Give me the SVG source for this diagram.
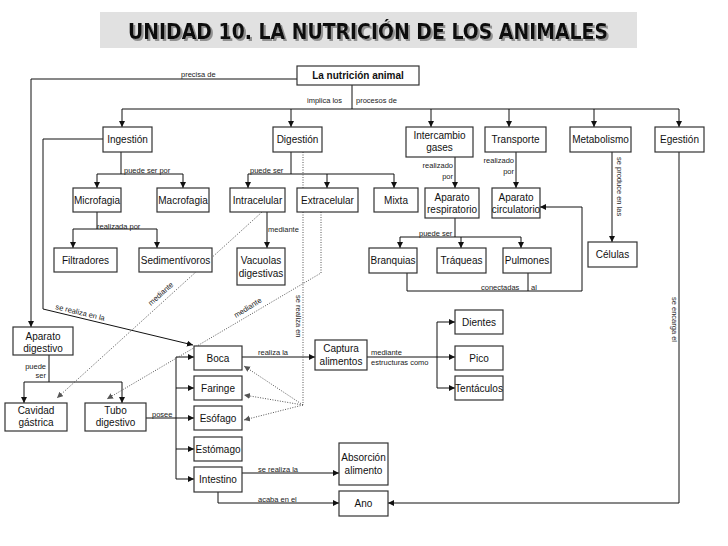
<svg xmlns="http://www.w3.org/2000/svg" width="728" height="546" viewBox="0 0 728 546">
<style>
.box{fill:#fff;stroke:#333;stroke-width:1.2}
.nt{font-family:"Liberation Sans",Arial,sans-serif;font-size:10px;fill:#111;text-anchor:middle}
.lb{font-family:"Liberation Sans",Arial,sans-serif;font-size:7.5px;fill:#222}
.ln{fill:none;stroke:#111;stroke-width:1}
.dt{fill:none;stroke:#555;stroke-width:1;stroke-dasharray:1,1.5}
.ttl{font-family:"DejaVu Sans Condensed","DejaVu Sans",Verdana,sans-serif;font-weight:bold;font-size:21px}
</style>
<defs>
<marker id="ar" markerUnits="userSpaceOnUse" markerWidth="7" markerHeight="7" refX="6" refY="3" orient="auto"><path d="M0,0 L6,3 L0,6 z" fill="#111"/></marker>
<marker id="ad" markerUnits="userSpaceOnUse" markerWidth="7" markerHeight="7" refX="6" refY="3" orient="auto"><path d="M0,0 L6,3 L0,6 z" fill="#555"/></marker>
<filter id="sh" x="-5%" y="-30%" width="110%" height="160%"><feDropShadow dx="2" dy="2" stdDeviation="0.6" flood-color="#888" flood-opacity="0.9"/></filter>
</defs>
<rect x="0" y="0" width="728" height="546" fill="#fff"/>
<g id="title">
<rect x="100" y="12" width="537" height="36" fill="#e1e1e1"/>
<text class="ttl" x="128" y="39" fill="#111" filter="url(#sh)" textLength="480" lengthAdjust="spacingAndGlyphs">UNIDAD 10. LA NUTRICIÓN DE LOS ANIMALES</text>
</g>
<g id="connectors">
<path class="ln" d="M297,79 H31 V327" marker-end="url(#ar)"/>
<path class="ln" d="M352,85 V109 M122,109 H679"/>
<path class="ln" d="M122,109 V127" marker-end="url(#ar)"/>
<path class="ln" d="M291,109 V127" marker-end="url(#ar)"/>
<path class="ln" d="M431,109 V127" marker-end="url(#ar)"/>
<path class="ln" d="M509,109 V127" marker-end="url(#ar)"/>
<path class="ln" d="M594,109 V127" marker-end="url(#ar)"/>
<path class="ln" d="M679,109 V127" marker-end="url(#ar)"/>
<path class="ln" d="M121,152 V174 M97,174 H183"/>
<path class="ln" d="M97,174 V188" marker-end="url(#ar)"/>
<path class="ln" d="M183,174 V188" marker-end="url(#ar)"/>
<path class="ln" d="M291,152 V174 M248,174 H394"/>
<path class="ln" d="M248,174 V188" marker-end="url(#ar)"/>
<path class="ln" d="M327,174 V188" marker-end="url(#ar)"/>
<path class="ln" d="M394,174 V188" marker-end="url(#ar)"/>
<path class="ln" d="M455,157 V188" marker-end="url(#ar)"/>
<path class="ln" d="M516,152 V188" marker-end="url(#ar)"/>
<path class="ln" d="M612,152 V242" marker-end="url(#ar)"/>
<path class="ln" d="M679,152 V503 H388" marker-end="url(#ar)"/>
<path class="ln" d="M97,212 V229 M73,229 H157"/>
<path class="ln" d="M73,229 V248" marker-end="url(#ar)"/>
<path class="ln" d="M157,229 V248" marker-end="url(#ar)"/>
<path class="ln" d="M267,212 V248" marker-end="url(#ar)"/>
<path class="ln" d="M455,218 V237 M400,237 H521"/>
<path class="ln" d="M400,237 V248" marker-end="url(#ar)"/>
<path class="ln" d="M461,237 V248" marker-end="url(#ar)"/>
<path class="ln" d="M521,237 V248" marker-end="url(#ar)"/>
<path class="ln" d="M407,273 V291 H582 V207 H540" marker-end="url(#ar)"/>
<path class="ln" d="M528,273 V291"/>
<path class="ln" d="M103,139 H43 V309 L193,345" marker-end="url(#ar)"/>
<path class="ln" d="M49,355 V382 M24,382 H122"/>
<path class="ln" d="M24,382 V403" marker-end="url(#ar)"/>
<path class="ln" d="M122,382 V403" marker-end="url(#ar)"/>
<path class="ln" d="M146,418 H194" marker-end="url(#ar)"/>
<path class="ln" d="M176,357 V479"/>
<path class="ln" d="M176,357 H194" marker-end="url(#ar)"/>
<path class="ln" d="M176,388 H194" marker-end="url(#ar)"/>
<path class="ln" d="M176,449 H194" marker-end="url(#ar)"/>
<path class="ln" d="M176,479 H194" marker-end="url(#ar)"/>
<path class="ln" d="M242,357 H315" marker-end="url(#ar)"/>
<path class="ln" d="M367,357 H437 M437,322 V388"/>
<path class="ln" d="M437,322 H455" marker-end="url(#ar)"/>
<path class="ln" d="M437,357 H455" marker-end="url(#ar)"/>
<path class="ln" d="M437,388 H455" marker-end="url(#ar)"/>
<path class="ln" d="M242,473 H339" marker-end="url(#ar)"/>
<path class="ln" d="M218,492 V503 H339" marker-end="url(#ar)"/>
<path class="dt" d="M303,152 V405"/>
<path class="dt" d="M303,405 L244,366" marker-end="url(#ad)"/>
<path class="dt" d="M303,405 L244,395" marker-end="url(#ad)"/>
<path class="dt" d="M303,405 L244,420" marker-end="url(#ad)"/>
<path class="dt" d="M262,212 L57,398" marker-end="url(#ad)"/>
<path class="dt" d="M321,212 V273 L107,399" marker-end="url(#ad)"/>
<text class="lb" x="181" y="77">precisa de</text>
<text class="lb" x="307" y="103">implica los</text>
<text class="lb" x="356" y="103">procesos de</text>
<text class="lb" x="124" y="173">puede ser por</text>
<text class="lb" x="250" y="173">puede ser</text>
<text class="lb" x="453" y="168" text-anchor="end">realizado</text>
<text class="lb" x="453" y="179" text-anchor="end">por</text>
<text class="lb" x="514" y="163" text-anchor="end">realizado</text>
<text class="lb" x="514" y="174" text-anchor="end">por</text>
<text class="lb" transform="translate(617,157) rotate(90)">se produce en las</text>
<text class="lb" transform="translate(672,297) rotate(90)">se encarga el</text>
<text class="lb" transform="translate(296,295) rotate(90)">se realiza en</text>
<text class="lb" x="97" y="229">realizada por</text>
<text class="lb" x="268" y="232">mediante</text>
<text class="lb" x="419" y="236">puede ser</text>
<text class="lb" x="481" y="290">conectadas</text>
<text class="lb" x="531" y="290">al</text>
<text class="lb" transform="translate(55,309) rotate(13.5)">se realiza en la</text>
<text class="lb" transform="translate(151,306) rotate(-42)">mediante</text>
<text class="lb" transform="translate(236,318) rotate(-32)">mediante</text>
<text class="lb" x="258" y="355">realiza la</text>
<text class="lb" x="371" y="355">mediante</text>
<text class="lb" x="371" y="365">estructuras como</text>
<text class="lb" x="152" y="417">posee</text>
<text class="lb" x="46" y="369" text-anchor="end">puede</text>
<text class="lb" x="46" y="378" text-anchor="end">ser</text>
<text class="lb" x="258" y="472">se realiza la</text>
<text class="lb" x="258" y="502">acaba en el</text>
</g>
<g id="n-nutricion"><rect class="box" x="297" y="66" width="122" height="19"/><text class="nt" x="358" y="79" font-weight="bold">La nutrición animal</text></g>
<g id="n-ingestion"><rect class="box" x="103" y="127" width="49" height="25"/><text class="nt" x="127.5" y="143">Ingestión</text></g>
<g id="n-digestion"><rect class="box" x="273" y="127" width="49" height="25"/><text class="nt" x="297.5" y="143">Digestión</text></g>
<g id="n-intercambio"><rect class="box" x="406" y="127" width="67" height="30"/><text class="nt" x="439.5" y="139">Intercambio</text><text class="nt" x="439.5" y="151">gases</text></g>
<g id="n-transporte"><rect class="box" x="485" y="127" width="61" height="25"/><text class="nt" x="515.5" y="143">Transporte</text></g>
<g id="n-metabolismo"><rect class="box" x="570" y="127" width="61" height="25"/><text class="nt" x="600.5" y="143">Metabolismo</text></g>
<g id="n-egestion"><rect class="box" x="655" y="127" width="49" height="25"/><text class="nt" x="679.5" y="143">Egestión</text></g>
<g id="n-microfagia"><rect class="box" x="73" y="188" width="48" height="24"/><text class="nt" x="97" y="204">Microfagia</text></g>
<g id="n-macrofagia"><rect class="box" x="157" y="188" width="52" height="24"/><text class="nt" x="183" y="204">Macrofagia</text></g>
<g id="n-intracelular"><rect class="box" x="230" y="188" width="55" height="24"/><text class="nt" x="257.5" y="204">Intracelular</text></g>
<g id="n-extracelular"><rect class="box" x="297" y="188" width="61" height="24"/><text class="nt" x="327.5" y="204">Extracelular</text></g>
<g id="n-mixta"><rect class="box" x="374" y="188" width="44" height="24"/><text class="nt" x="396" y="204">Mixta</text></g>
<g id="n-respiratorio"><rect class="box" x="425" y="188" width="54" height="30"/><text class="nt" x="452" y="201">Aparato</text><text class="nt" x="452" y="213">respiratorio</text></g>
<g id="n-circulatorio"><rect class="box" x="492" y="188" width="48" height="30"/><text class="nt" x="516" y="201">Aparato</text><text class="nt" x="516" y="213">circulatorio</text></g>
<g id="n-filtradores"><rect class="box" x="54" y="248" width="63" height="24"/><text class="nt" x="85.5" y="264">Filtradores</text></g>
<g id="n-sedimentivoros"><rect class="box" x="139" y="248" width="73" height="24"/><text class="nt" x="175.5" y="264">Sedimentívoros</text></g>
<g id="n-vacuolas"><rect class="box" x="237" y="248" width="48" height="37"/><text class="nt" x="261" y="264">Vacuolas</text><text class="nt" x="261" y="277">digestivas</text></g>
<g id="n-branquias"><rect class="box" x="369" y="248" width="48" height="25"/><text class="nt" x="393" y="264">Branquias</text></g>
<g id="n-traqueas"><rect class="box" x="437" y="248" width="49" height="25"/><text class="nt" x="461.5" y="264">Tráqueas</text></g>
<g id="n-pulmones"><rect class="box" x="503" y="248" width="48" height="25"/><text class="nt" x="527" y="264">Pulmones</text></g>
<g id="n-celulas"><rect class="box" x="588" y="242" width="49" height="25"/><text class="nt" x="612.5" y="258">Células</text></g>
<g id="n-apdigestivo"><rect class="box" x="13" y="327" width="60" height="28"/><text class="nt" x="43" y="340">Aparato</text><text class="nt" x="43" y="352">digestivo</text></g>
<g id="n-cavidad"><rect class="box" x="5" y="403" width="62" height="28"/><text class="nt" x="36" y="414">Cavidad</text><text class="nt" x="36" y="426">gástrica</text></g>
<g id="n-tubo"><rect class="box" x="85" y="403" width="61" height="28"/><text class="nt" x="115.5" y="414">Tubo</text><text class="nt" x="115.5" y="426">digestivo</text></g>
<g id="n-boca"><rect class="box" x="194" y="346" width="48" height="24"/><text class="nt" x="218" y="362">Boca</text></g>
<g id="n-faringe"><rect class="box" x="194" y="376" width="48" height="24"/><text class="nt" x="218" y="392">Faringe</text></g>
<g id="n-esofago"><rect class="box" x="194" y="406" width="48" height="24"/><text class="nt" x="218" y="422">Esófago</text></g>
<g id="n-estomago"><rect class="box" x="194" y="437" width="48" height="24"/><text class="nt" x="218" y="453">Estómago</text></g>
<g id="n-intestino"><rect class="box" x="194" y="467" width="48" height="25"/><text class="nt" x="218" y="483">Intestino</text></g>
<g id="n-captura"><rect class="box" x="315" y="340" width="52" height="30"/><text class="nt" x="341" y="352">Captura</text><text class="nt" x="341" y="365">alimentos</text></g>
<g id="n-dientes"><rect class="box" x="455" y="310" width="48" height="24"/><text class="nt" x="479" y="326">Dientes</text></g>
<g id="n-pico"><rect class="box" x="455" y="346" width="48" height="24"/><text class="nt" x="479" y="362">Pico</text></g>
<g id="n-tentaculos"><rect class="box" x="455" y="376" width="48" height="24"/><text class="nt" x="479" y="392">Tentáculos</text></g>
<g id="n-absorcion"><rect class="box" x="339" y="443" width="49" height="42"/><text class="nt" x="363.5" y="461">Absorción</text><text class="nt" x="363.5" y="474">alimento</text></g>
<g id="n-ano"><rect class="box" x="339" y="491" width="49" height="25"/><text class="nt" x="363.5" y="507">Ano</text></g>
</svg>
